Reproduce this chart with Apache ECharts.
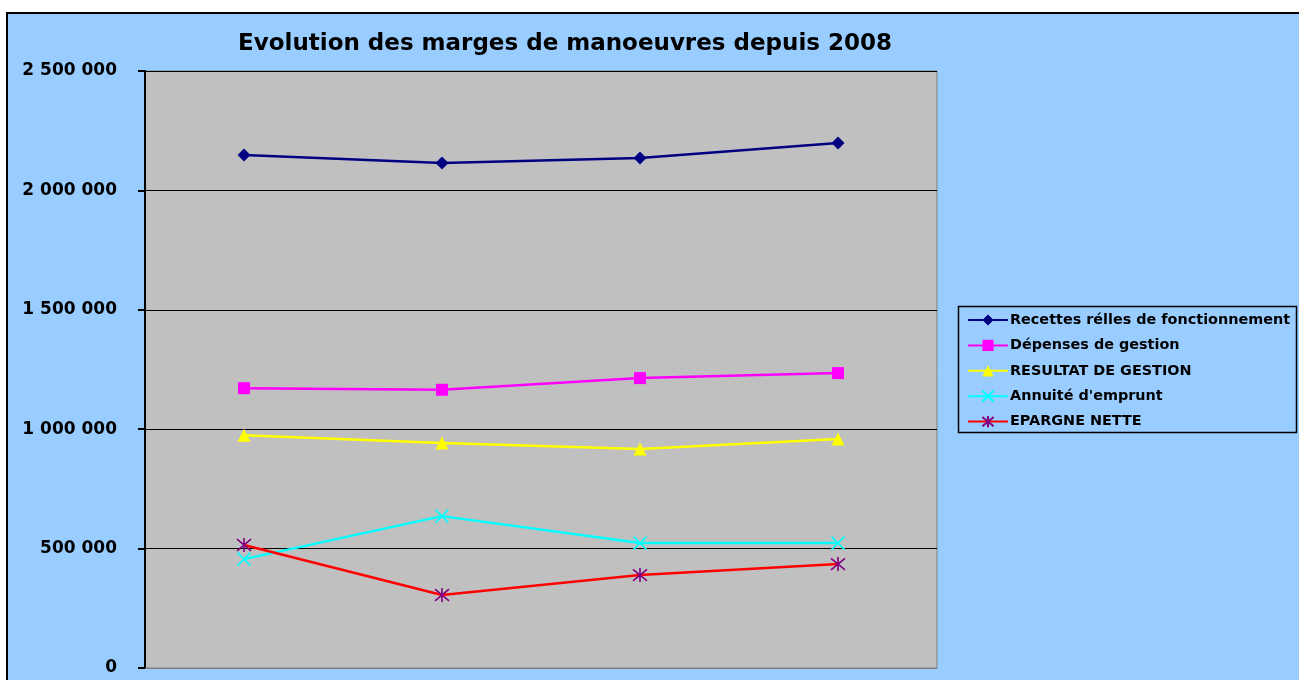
<!DOCTYPE html>
<html>
<head>
<meta charset="utf-8">
<script src="https://cdn.jsdelivr.net/npm/echarts@6/dist/echarts.min.js"></script>
<style>
    html, body { margin: 0; padding: 0; background: #ffffff; overflow: hidden; }
    #frame { position: absolute; left: 6px; top: 12px; width: 1320px; height: 700px; background: #99ccff; border: 2px solid #000; }
    #chart { position: absolute; left: 0; top: 0; width: 1299px; height: 680px; }
</style>
</head>
<body>
<div id="frame"></div>
<div id="chart"></div>
<script>
const categories = ['2008', '2009', '2010', '2011'];
const recettes = [2148000, 2115000, 2136000, 2198000];
const depenses = [1172000, 1165000, 1214000, 1235000];
const resultat = [975000, 942000, 917000, 959000];
const annuite = [456000, 636000, 523000, 523000];
const epargne = [515000, 306000, 389000, 435000];
const yTicks = { min: 0, max: 2500000, step: 500000 };

const chart = echarts.init(document.getElementById('chart'));
const FONT = '"DejaVu Sans", Arial, sans-serif';

// séparateur de milliers avec espace
function fmt(v) {
    return String(v).replace(/\B(?=(\d{3})+(?!\d))/g, ' ');
}

function line(name, data, lineColor, symbol, size, markColor, stroke) {
    return {
        name: name,
        type: 'line',
        data: data,
        symbol: symbol,
        symbolSize: size,
        lineStyle: { color: lineColor, width: 2.5 },
        itemStyle: stroke
            ? { color: markColor, borderColor: markColor, borderWidth: 1.6 }
            : { color: markColor },
        emphasis: { disabled: true },
        z: 3,
    };
}

const option = {
    animation: false,
    backgroundColor: 'transparent',
    grid: {
        left: 145, top: 71, width: 792, height: 597,
        show: true, backgroundColor: '#c0c0c0', borderColor: '#808080', borderWidth: 1,
    },
    xAxis: {
        type: 'category',
        data: categories,
        boundaryGap: true,
        axisLine: { lineStyle: { color: '#808080', width: 1 } },
        axisTick: { show: false },
        axisLabel: { show: false },
        splitLine: { show: false },
    },
    yAxis: {
        type: 'value',
        min: yTicks.min,
        max: yTicks.max,
        interval: yTicks.step,
        axisLine: { show: true, lineStyle: { color: '#000', width: 2 } },
        axisTick: { show: true, inside: false, length: 7, lineStyle: { color: '#000', width: 2 } },
        axisLabel: {
            margin: 28,
            color: '#000',
            fontFamily: FONT,
            fontWeight: 'bold',
            fontSize: 17,
            padding: [3, 0, 0, 0],
            formatter: fmt,
        },
        splitLine: { show: true, lineStyle: { color: '#000', width: 1 } },
    },
    legend: {
        orient: 'vertical',
        left: 967,
        top: 313,
        itemWidth: 40,
        itemHeight: 14,
        itemGap: 11.4,
        padding: 0,
        textStyle: {
            color: '#000',
            fontFamily: FONT,
            fontWeight: 'bold',
            fontSize: 14.4,
            padding: [0, 0, 0, -3],
        },
        data: ['Recettes rélles de fonctionnement', 'Dépenses de gestion', 'RESULTAT DE GESTION', "Annuité d'emprunt", 'EPARGNE NETTE'],
    },
    graphic: [
        {
            type: 'text',
            x: 565,
            y: 44,
            style: {
                text: 'Evolution des marges de manoeuvres depuis 2008',
                fill: '#000',
                font: 'bold 23px ' + FONT,
                align: 'center',
                verticalAlign: 'middle',
            },
        },
        {
            type: 'rect',
            shape: { x: 958.5, y: 306.5, width: 338, height: 126 },
            style: { fill: 'none', stroke: '#000', lineWidth: 1.5 },
            z: -1,
        },
    ],
    series: [
        line('Recettes rélles de fonctionnement', recettes, '#000080', 'diamond', 13, '#000080'),
        line('Dépenses de gestion', depenses, '#ff00ff', 'rect', 12, '#ff00ff'),
        line('RESULTAT DE GESTION', resultat, '#ffff00', 'triangle', 13, '#ffff00'),
        line("Annuité d'emprunt", annuite, '#00ffff', 'path://M0,0L10,10M10,0L0,10', 13, '#00ffff', true),
        line('EPARGNE NETTE', epargne, '#ff0000', 'path://M0,0L10,10M10,0L0,10M5,-1L5,11', 14, '#800080', true),
    ],
};

chart.setOption(option);
</script>
</body>
</html>
